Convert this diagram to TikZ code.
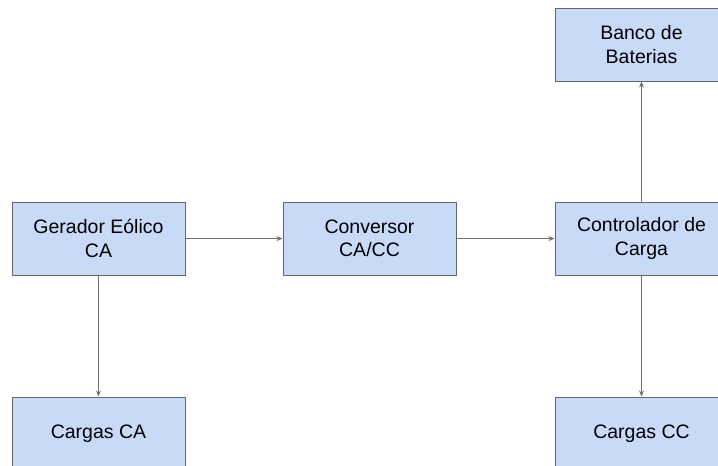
\documentclass[tikz,border=0pt]{standalone}
\usepackage{fontspec}
\setmainfont{Liberation Sans}
\usetikzlibrary{arrows.meta}
\definecolor{boxfill}{HTML}{C9DAF8}
\definecolor{boxline}{HTML}{666666}
\definecolor{linkline}{HTML}{707070}
\tikzset{
  block/.style={draw=boxline, fill=boxfill, line width=1pt,
    minimum width=173pt, minimum height=73pt, inner sep=0pt,
    align=center, font=\fontsize{19.5}{23.5}\selectfont},
  link/.style={draw=linkline, line width=0.9pt,
    -{Stealth[length=6pt,width=5pt]}}
}
\begin{document}
\begin{tikzpicture}[x=1pt,y=-1pt]
  \useasboundingbox (0,0) rectangle (718,466);
  \clip (0,0) rectangle (718,466);
  \node[block] (gen)  at (98.5,238.5)  {Gerador Eólico\\CA};
  \node[block] (conv) at (369.5,238.5) {Conversor\\CA/CC};
  \node[block] (ctrl) at (641.5,238.5) {Controlador de\\Carga};
  \node[block] (bat)  at (641.5,44.5)  {Banco de\\Baterias};
  \node[block] (ca)   at (98.5,433.5)  {Cargas CA};
  \node[block] (cc)   at (641.5,433.5) {Cargas CC};
  \draw[link] (gen) -- (conv);
  \draw[link] (conv) -- (ctrl);
  \draw[link] (gen) -- (ca);
  \draw[link] (ctrl) -- (bat);
  \draw[link] (ctrl) -- (cc);
\end{tikzpicture}
\end{document}
